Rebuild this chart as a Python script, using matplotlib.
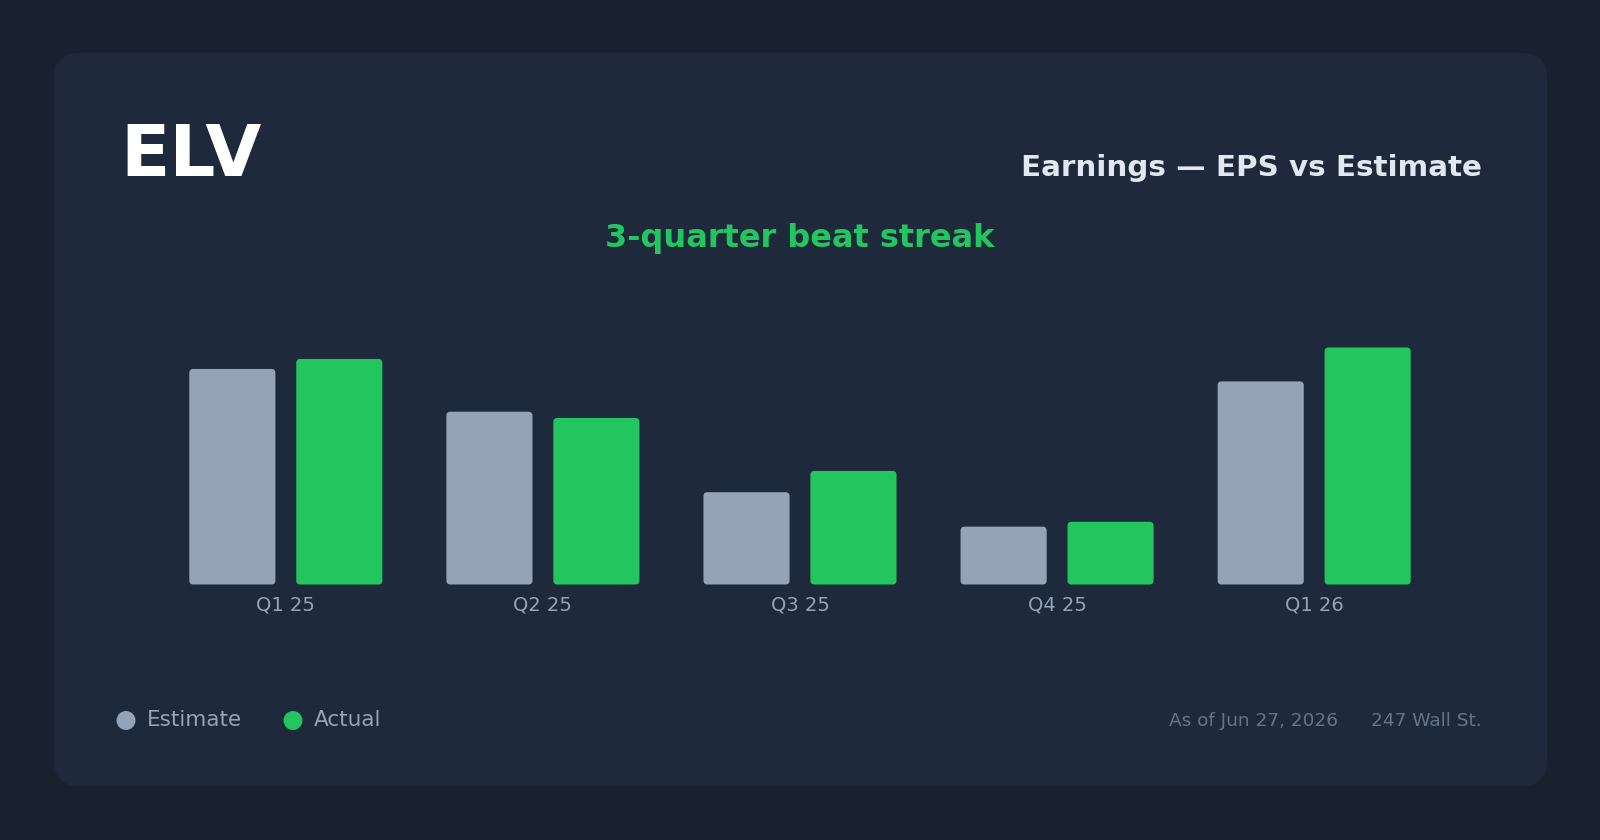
import matplotlib
matplotlib.use("Agg")
import matplotlib.pyplot as plt
from matplotlib.patches import FancyBboxPatch, Circle
import numpy as np

# data
quarters = ["Q1 25", "Q2 25", "Q3 25", "Q4 25", "Q1 26"]
estimate = [11.44, 9.17, 4.90, 3.07, 10.78]
actual = [11.97, 8.84, 6.03, 3.33, 12.58]

W, H = 1600, 840
BG = "#19212f"
CARD = "#1e293b"
EST_C = "#94a3b8"
ACT_C = "#22c55e"

fig = plt.figure(figsize=(W / 100, H / 100), dpi=100, facecolor=BG)


def fx(px):
    return px / W


def fy(py):
    return 1 - py / H


# card background (behind the axes)
card = FancyBboxPatch((fx(54), fy(786)), fx(1547 - 54), (786 - 53) / H,
                      boxstyle="round,pad=0,rounding_size=0.016",
                      mutation_aspect=W / H, zorder=-5,
                      transform=fig.transFigure, facecolor=CARD, edgecolor="none")
fig.patches.append(card)

# header text
fig.text(fx(120), fy(176), "ELV", color="white", fontsize=52, fontweight="bold",
         ha="left", va="baseline")
fig.text(fx(1482), fy(176), "Earnings — EPS vs Estimate", color="#e2e8f0",
         fontsize=21.2, fontweight="bold", ha="right", va="baseline")
fig.text(0.5, fy(239), "3-quarter beat streak", color=ACT_C, fontsize=23,
         fontweight="bold", ha="center", va="center")

# bar chart
ax = fig.add_axes([fx(120), fy(584.5), fx(1360), (584.5 - 300) / H])
ax.set_facecolor("none")
ax.set_xlim(-0.645, 4.645)
ax.set_ylim(0, 15.1)
for s in ax.spines.values():
    s.set_visible(False)
ax.set_yticks([])
ax.set_xticks(range(len(quarters)))
ax.set_xticklabels(quarters, color=EST_C, fontsize=14)
ax.tick_params(axis="x", length=0, pad=8)

bw = 0.335
off = 0.208
x_per_px = 5.29 / 1360
y_per_px = 15.1 / 284.5
aspect = y_per_px / x_per_px
r = 4 * x_per_px
x = np.arange(len(quarters))
for i in range(len(quarters)):
    for val, dx, col in ((estimate[i], -off, EST_C), (actual[i], off, ACT_C)):
        p = FancyBboxPatch((x[i] + dx - bw / 2, 0), bw, val,
                           boxstyle=f"round,pad=0,rounding_size={r}",
                           mutation_aspect=aspect, facecolor=col, edgecolor="none")
        ax.add_patch(p)

# legend
for cx, col, label in ((126, EST_C, "Estimate"), (293, ACT_C, "Actual")):
    fig.patches.append(Circle((cx / 100, (H - 720.5) / 100), 0.095,
                              transform=fig.dpi_scale_trans,
                              facecolor=col, edgecolor="none"))
    fig.text(fx(cx + 21), fy(720.5), label, color=EST_C, fontsize=15.5,
             ha="left", va="center")

# footer
fig.text(fx(1338), fy(720.5), "As of Jun 27, 2026", color="#64748b", fontsize=13.3,
         ha="right", va="center")
fig.text(fx(1482), fy(720.5), "247 Wall St.", color="#64748b", fontsize=13.3,
         ha="right", va="center")

fig.savefig("out.png", dpi=100, facecolor=BG)
